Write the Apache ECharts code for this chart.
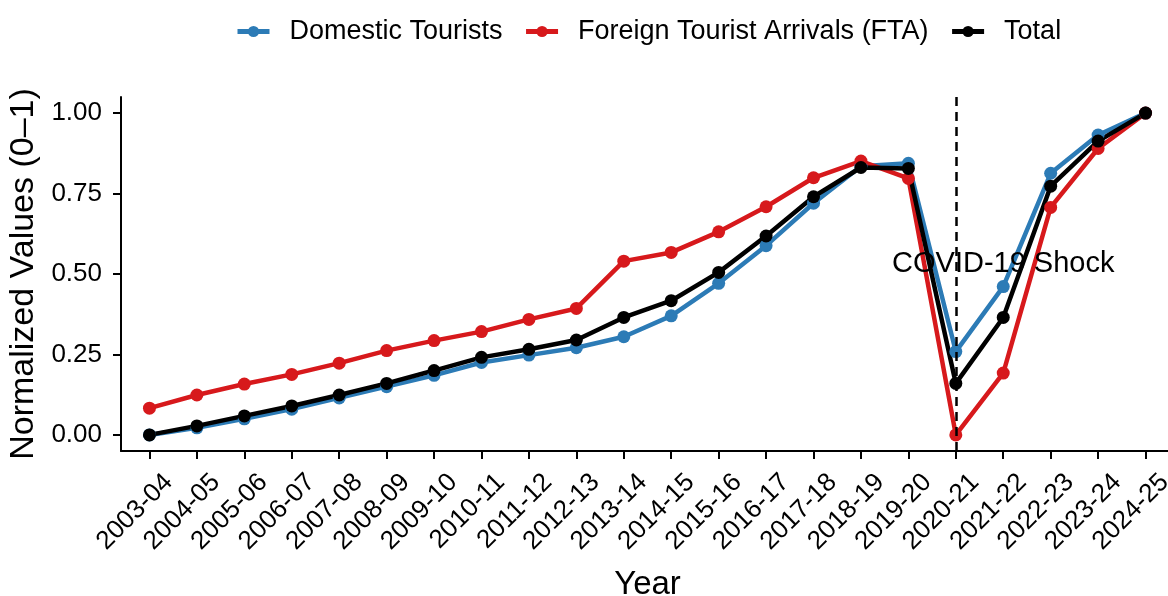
<!DOCTYPE html>
<html>
<head>
<meta charset="utf-8">
<script src="https://cdn.jsdelivr.net/npm/echarts@6/dist/echarts.min.js"></script>
<style>
  html, body { margin: 0; padding: 0; background: #fff; }
  #chart { width: 1168px; height: 596px; }
</style>
</head>
<body>
<div id="chart"></div>
<script>
// 年份类目
var years = ['2003-04', '2004-05', '2005-06', '2006-07', '2007-08', '2008-09', '2009-10',
  '2010-11', '2011-12', '2012-13', '2013-14', '2014-15', '2015-16', '2016-17', '2017-18',
  '2018-19', '2019-20', '2020-21', '2021-22', '2022-23', '2023-24', '2024-25'];
var domestic = [0, 0.022, 0.05, 0.08, 0.115, 0.15, 0.185, 0.225, 0.248, 0.271, 0.305,
  0.37, 0.471, 0.588, 0.72, 0.835, 0.844, 0.259, 0.461, 0.813, 0.932, 1.0];
var fta = [0.083, 0.124, 0.158, 0.188, 0.223, 0.262, 0.293, 0.321, 0.359, 0.393, 0.54,
  0.567, 0.631, 0.709, 0.799, 0.851, 0.797, 0, 0.192, 0.707, 0.89, 1.0];
var total = [0, 0.028, 0.059, 0.09, 0.124, 0.16, 0.2, 0.241, 0.266, 0.295, 0.365,
  0.417, 0.505, 0.618, 0.74, 0.831, 0.828, 0.16, 0.365, 0.773, 0.913, 1.0];
var yTicks = [0, 0.25, 0.5, 0.75, 1];
var shockYear = '2020-21';
var shockLabel = 'COVID-19 Shock';
var shockLabelYear = '2021-22';
var shockLabelY = 0.53;

var font = "'Liberation Sans', Arial, sans-serif";

function pairs(arr) {
  return arr.map(function (v, i) { return [i, v]; });
}

var myChart = echarts.init(document.getElementById('chart'));
var lineSeries = function (name, color, data) {
  return {
    name: name,
    type: 'line',
    data: pairs(data),
    symbol: 'circle',
    symbolSize: 13,
    showAllSymbol: true,
    itemStyle: { color: color },
    lineStyle: { color: color, width: 4.5 },
    emphasis: { disabled: true },
    z: 3
  };
};

var option = {
  animation: false,
  textStyle: { fontFamily: font },
  legend: {
    data: ['Domestic Tourists', 'Foreign Tourist Arrivals (FTA)', 'Total'],
    top: 13,
    left: 230,
    itemWidth: 32,
    itemHeight: 14,
    itemGap: 21,
    lineStyle: { width: 5 },
    textStyle: {
      color: '#000',
      fontSize: 27,
      fontFamily: font,
      padding: [0, 0, 0, 15]
    }
  },
  grid: {
    left: 121,
    top: 97,
    width: 1053,
    height: 354,
    containLabel: false,
    outerBoundsMode: 'none'
  },
  xAxis: {
    type: 'value',
    min: -0.6,
    max: 21.6,
    name: 'Year',
    nameLocation: 'middle',
    nameGap: 117,
    nameTextStyle: { color: '#000', fontSize: 33, fontFamily: font },
    splitLine: { show: false },
    axisLine: { onZero: false, lineStyle: { color: '#000', width: 2 } },
    axisTick: { customValues: years.map(function (y, i) { return i; }), length: 8, lineStyle: { color: '#000', width: 2 } },
    axisLabel: {
      customValues: years.map(function (y, i) { return i; }),
      formatter: function (v) { return years[Math.round(v)]; },
      rotate: 45,
      margin: 28,
      align: 'right',
      verticalAlign: 'top',
      padding: [0, -14, 0, 0],
      color: '#000',
      fontSize: 26,
      fontFamily: font
    }
  },
  yAxis: {
    type: 'value',
    min: -0.05,
    max: 1.05,
    name: 'Normalized Values (0\u20131)',
    nameLocation: 'middle',
    nameGap: 80,
    nameTextStyle: { color: '#000', fontSize: 34, fontFamily: font },
    splitLine: { show: false },
    axisLine: { show: true, onZero: false, lineStyle: { color: '#000', width: 2 } },
    axisTick: { show: true, customValues: yTicks, length: 8, lineStyle: { color: '#000', width: 2 } },
    axisLabel: {
      customValues: yTicks,
      formatter: function (v) { return v.toFixed(2); },
      margin: 19,
      color: '#000',
      fontSize: 26,
      fontFamily: font
    }
  },
  series: [
    {
      // 放注释和虚线，压在折线下面
      name: 'shock',
      type: 'line',
      data: [],
      z: 1,
      markLine: {
        silent: true,
        symbol: ['none', 'none'],
        label: { show: false },
        lineStyle: { color: '#000', type: [9, 6], width: 2.5 },
        data: [{ xAxis: years.indexOf(shockYear) }]
      },
      markPoint: {
        silent: true,
        symbol: 'circle',
        symbolSize: 0,
        label: {
          show: true,
          position: 'inside',
          formatter: shockLabel,
          color: '#000',
          fontSize: 29,
          fontFamily: font
        },
        data: [{ coord: [years.indexOf(shockLabelYear), shockLabelY] }]
      }
    },
    lineSeries('Domestic Tourists', '#2C7BB6', domestic),
    lineSeries('Foreign Tourist Arrivals (FTA)', '#D7191C', fta),
    lineSeries('Total', '#000000', total)
  ]
};
myChart.setOption(option);
window.addEventListener('resize', function () {
  myChart.resize();
});
</script>
</body>
</html>
